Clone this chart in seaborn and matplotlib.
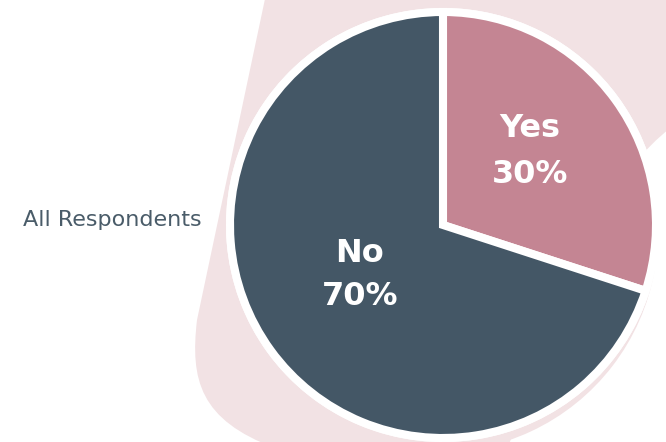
import matplotlib
matplotlib.use("Agg")
import matplotlib.pyplot as plt
from matplotlib.path import Path
from matplotlib.patches import PathPatch, Circle, Wedge
import seaborn as sns

# Survey answers
answers = ["Yes", "No"]
shares = [30, 70]
group_label = "All Respondents"

sns.set_theme(style="white")
plt.rcParams["font.family"] = ["DejaVu Sans"]

palette = sns.color_palette(["#c48593", "#445766"])
blob_color = "#f2e2e4"
text_color = "#4a5c69"

W, H = 666, 442
fig = plt.figure(figsize=(W / 100, H / 100), dpi=100)
ax = fig.add_axes([0, 0, 1, 1])
ax.set_xlim(0, W)
ax.set_ylim(0, H)
ax.set_aspect("equal")
ax.axis("off")


def px(x, y):
    """Pixel position measured from the top-left corner to data coords."""
    return (x, H - y)


# Soft background shape behind the pie
verts = [
    px(269, -20), px(197, 320),
    px(190, 380), px(200, 420), px(275, 448),
    px(275, 470), px(500, 470), px(560, 300),
    px(600, 200), px(645, 135), px(700, 110),
    px(700, -20), px(269, -20),
]
codes = [
    Path.MOVETO, Path.LINETO,
    Path.CURVE4, Path.CURVE4, Path.CURVE4,
    Path.LINETO, Path.LINETO, Path.LINETO,
    Path.CURVE4, Path.CURVE4, Path.CURVE4,
    Path.LINETO, Path.CLOSEPOLY,
]
ax.add_patch(PathPatch(Path(verts, codes), facecolor=blob_color, edgecolor="none", zorder=0))
# faint offset shadow peeking out at the lower right of the pie
ax.add_patch(Wedge(px(438, 232), 220, -120, -10, facecolor=blob_color, edgecolor="none", zorder=0))

# White rim around the pie
cx, cy = px(443, 225)
ax.add_patch(Circle((cx, cy), 217, facecolor="white", edgecolor="none", zorder=1))

wedges, _ = ax.pie(
    shares,
    colors=palette,
    center=(cx, cy),
    radius=213,
    startangle=90,
    counterclock=False,
    wedgeprops=dict(edgecolor="white", linewidth=5.8),
    frame=True,
)
for w in wedges:
    w.set_zorder(2)
ax.set_xlim(0, W)
ax.set_ylim(0, H)
ax.axis("off")

# Wedge labels
label_pos = {"Yes": (530, 137, 183), "No": (360, 262, 305)}
for name, value in zip(answers, shares):
    x, b1, b2 = label_pos[name]
    ax.text(*px(x, b1), name, ha="center", va="baseline", color="white",
            fontsize=23, fontweight="bold", zorder=3)
    ax.text(*px(x, b2), f"{value}%", ha="center", va="baseline", color="white",
            fontsize=23, fontweight="bold", zorder=3)

ax.text(*px(23, 226), group_label, ha="left", va="baseline", color=text_color,
        fontsize=16, zorder=3)

fig.savefig("out.png", dpi=100)
